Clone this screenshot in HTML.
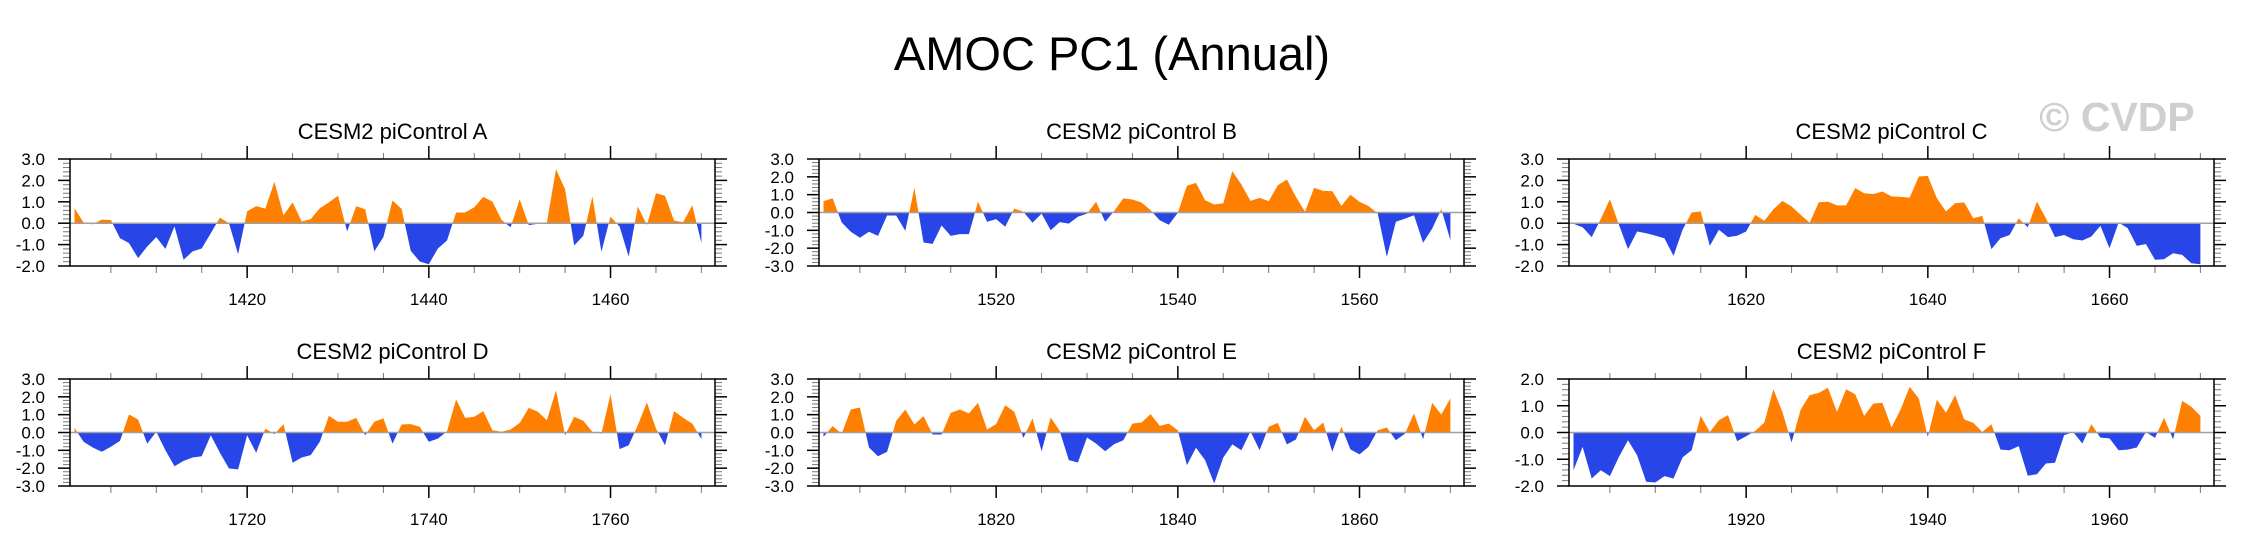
<!DOCTYPE html>
<html><head><meta charset="utf-8">
<style>
html,body{margin:0;padding:0;background:#fff;}
svg{display:block;font-family:"Liberation Sans",Arial,sans-serif;}
</style></head>
<body>
<svg id="fig" width="2244" height="555" viewBox="0 0 2244 555" xmlns="http://www.w3.org/2000/svg">
<text x="1112" y="70" font-size="47" text-anchor="middle" fill="#000">AMOC PC1 (Annual)</text>
<text x="2117" y="131" font-size="41" font-weight="bold" text-anchor="middle" fill="#cfcfcf">© CVDP</text>
</svg>
<script>
const panelTitles = ["CESM2 piControl A","CESM2 piControl B","CESM2 piControl C","CESM2 piControl D","CESM2 piControl E","CESM2 piControl F"];
const firstYears = [1401,1501,1601,1701,1801,1901];
const yMins = [-2,-3,-2,-3,-3,-2];
const yMaxs = [3,3,3,3,3,2];
const valsA = [0.7,0.03,-0.05,0.17,0.15,-0.7,-0.93,-1.63,-1.09,-0.65,-1.2,-0.15,-1.71,-1.32,-1.18,-0.47,0.26,0,-1.45,0.55,0.8,0.68,1.93,0.37,0.97,0.08,0.19,0.7,0.97,1.29,-0.39,0.8,0.65,-1.32,-0.65,1.06,0.67,-1.29,-1.79,-1.92,-1.18,-0.81,0.5,0.5,0.75,1.23,1.01,0.16,-0.19,1.12,-0.09,-0.03,0.03,2.52,1.59,-1.04,-0.59,1.25,-1.34,0.31,-0.16,-1.56,0.78,-0.08,1.4,1.28,0.12,0.05,0.84,-0.93];
const valsB = [0.64,0.79,-0.56,-1.08,-1.42,-1.08,-1.31,-0.17,-0.17,-1.03,1.38,-1.68,-1.76,-0.73,-1.31,-1.21,-1.21,0.6,-0.52,-0.37,-0.8,0.22,0.04,-0.58,-0.06,-0.99,-0.54,-0.62,-0.24,-0.06,0.6,-0.52,0.09,0.79,0.73,0.56,0.13,-0.43,-0.69,-0.02,1.5,1.66,0.69,0.45,0.52,2.32,1.57,0.65,0.82,0.64,1.53,1.85,0.88,0.04,1.38,1.21,1.2,0.37,0.99,0.6,0.36,-0.05,-2.49,-0.52,-0.34,-0.15,-1.7,-0.9,0.19,-1.55];
const valsC = [-0.03,-0.19,-0.65,0.2,1.12,-0.08,-1.21,-0.39,-0.47,-0.58,-0.7,-1.53,-0.31,0.5,0.55,-1.06,-0.31,-0.65,-0.59,-0.39,0.39,0.11,0.65,1.04,0.78,0.39,0.03,0.98,1.01,0.83,0.83,1.64,1.4,1.36,1.48,1.25,1.23,1.2,2.18,2.21,1.17,0.55,0.93,0.97,0.23,0.34,-1.21,-0.7,-0.55,0.23,-0.19,1.01,0.23,-0.65,-0.55,-0.75,-0.81,-0.62,-0.12,-1.17,0.03,-0.23,-1.06,-0.97,-1.71,-1.68,-1.4,-1.48,-1.87,-1.92];
const valsD = [0.26,-0.52,-0.84,-1.08,-0.8,-0.47,1.01,0.73,-0.62,0.04,-0.99,-1.89,-1.59,-1.4,-1.33,-0.15,-1.14,-2.02,-2.07,-0.15,-1.14,0.22,-0.09,0.47,-1.7,-1.4,-1.27,-0.52,0.93,0.6,0.6,0.82,-0.15,0.6,0.79,-0.62,0.45,0.47,0.32,-0.52,-0.34,0.07,1.85,0.82,0.88,1.2,0.13,0.04,0.17,0.54,1.38,1.16,0.69,2.37,-0.15,0.88,0.65,0.04,-0.06,2.15,-0.93,-0.71,0.41,1.68,0.22,-0.71,1.2,0.82,0.5,-0.37];
const valsE = [-0.24,0.36,-0.06,1.29,1.4,-0.84,-1.33,-1.08,0.65,1.29,0.45,0.92,-0.11,-0.11,1.1,1.29,1.07,1.66,0.17,0.47,1.53,1.16,-0.3,0.79,-1.05,0.84,0.09,-1.55,-1.68,-0.28,-0.62,-1.05,-0.65,-0.43,0.5,0.56,1.03,0.37,0.5,0.13,-1.83,-0.86,-1.55,-2.86,-1.4,-0.67,-0.99,0.07,-0.99,0.32,0.54,-0.67,-0.39,0.88,0.13,0.56,-1.08,0.32,-0.95,-1.23,-0.8,0.13,0.28,-0.43,-0.06,1.07,-0.37,1.66,1.01,1.91];
const valsF = [-1.41,-0.54,-1.72,-1.41,-1.63,-0.91,-0.29,-0.85,-1.84,-1.87,-1.63,-1.72,-0.93,-0.66,0.62,0.02,0.46,0.65,-0.32,-0.14,0.06,0.37,1.62,0.75,-0.37,0.86,1.4,1.48,1.67,0.77,1.62,1.43,0.62,1.08,1.11,0.19,0.86,1.71,1.27,-0.16,1.23,0.74,1.4,0.49,0.36,0.02,0.31,-0.64,-0.66,-0.51,-1.62,-1.56,-1.16,-1.13,-0.1,0.02,-0.41,0.31,-0.19,-0.22,-0.66,-0.64,-0.56,0.02,-0.2,0.55,-0.25,1.18,0.96,0.62];
const allVals = [valsA,valsB,valsC,valsD,valsE,valsF];

const NS = "http://www.w3.org/2000/svg";
const svg = document.getElementById("fig");
const lefts = [70,819,1569], tops = [159,379], PW = 645, PH = 107;
function mk(tag, attrs, parent){
  const e = document.createElementNS(NS, tag);
  for (const k in attrs) e.setAttribute(k, attrs[k]);
  (parent||svg).appendChild(e);
  return e;
}
allVals.forEach((vals, p) => {
  const L = lefts[p%3], T = tops[Math.floor(p/3)], R = L+PW, B = T+PH;
  const x0 = firstYears[p]-0.5, x1 = firstYears[p]+70.5;
  const ymin = yMins[p], ymax = yMaxs[p];
  const xs = yr => L + (yr-x0)/(x1-x0)*PW;
  const ys = v => B - (v-ymin)/(ymax-ymin)*PH;
  const g = mk("g", {});
  
  
  const t = mk("text", {x:(L+R)/2, y:T-20, "font-size":22, "text-anchor":"middle"}, g);
  t.textContent = panelTitles[p];
  
  
  // area
  const y0 = ys(0);
  let pts = xs(firstYears[p]).toFixed(1)+","+y0.toFixed(1)+" ";
  vals.forEach((v,i)=>{ pts += xs(firstYears[p]+i).toFixed(1)+","+ys(v).toFixed(1)+" "; });
  pts += xs(firstYears[p]+vals.length-1).toFixed(1)+","+y0.toFixed(1);
  const cpU = mk("clipPath",{id:"cu"+p}, g); mk("rect",{x:L,y:T,width:PW,height:y0-T},cpU);
  const cpD = mk("clipPath",{id:"cd"+p}, g); mk("rect",{x:L,y:y0,width:PW,height:B-y0},cpD);
  const pu = mk("polygon",{points:pts, fill:"#ff8000", "clip-path":"url(#cu"+p+")"}, g);
  
  
  const pd = mk("polygon",{points:pts, fill:"#2845e8", "clip-path":"url(#cd"+p+")"}, g);
  
  
  const zl = mk("line",{x1:L,x2:R,y1:y0,y2:y0,stroke:"#a0a0a0","stroke-width":1.5}, g);
  
  
  // y ticks
  for (let k = Math.round(ymin*5); k <= Math.round(ymax*5); k++) {
    const v = k/5, y = ys(v), major = (k%5===0);
    const len = major ? 12 : 7;
    mk("line",{x1:L-len,x2:L,y1:y,y2:y,stroke:major?"#000":"#777","stroke-width":major?1.5:1}, g);
    mk("line",{x1:R,x2:R+len,y1:y,y2:y,stroke:major?"#000":"#777","stroke-width":major?1.5:1}, g);
    if (major) {
      const lb = mk("text",{x:L-25,y:y+6,"font-size":17,"text-anchor":"end"}, g);
      lb.textContent = v.toFixed(1);
      
      
    }
  }
  // x ticks
  for (let yr = Math.ceil(x0/5)*5; yr <= x1; yr += 5) {
    const x = xs(yr), major = (yr%20===0);
    mk("line",{x1:x,x2:x,y1:T-(major?13:6),y2:T,stroke:major?"#000":"#777","stroke-width":major?1.5:1}, g);
    mk("line",{x1:x,x2:x,y1:B,y2:B+(major?12:7),stroke:major?"#000":"#777","stroke-width":major?1.5:1}, g);
    if (major) {
      const lb = mk("text",{x:x,y:B+39,"font-size":17,"text-anchor":"middle"}, g);
      lb.textContent = yr;
      
      
    }
  }
  const fr = mk("rect",{x:L,y:T,width:PW,height:PH,fill:"none",stroke:"#000","stroke-width":1.5}, g);
  
  
});
</script>
</body></html>
